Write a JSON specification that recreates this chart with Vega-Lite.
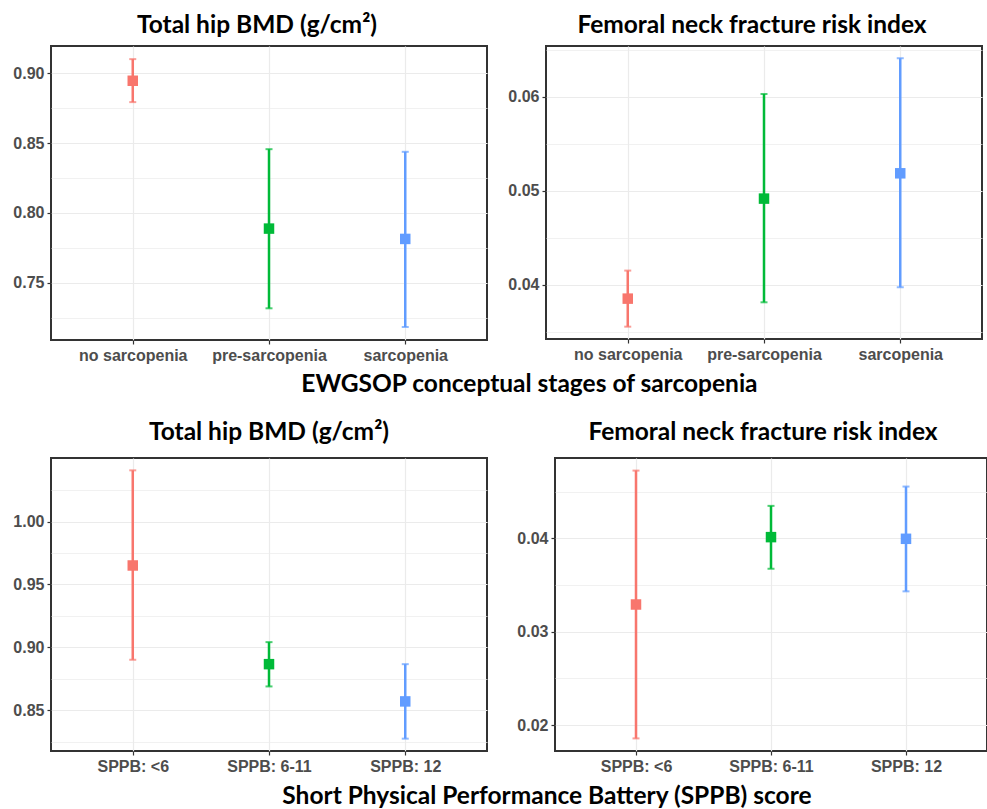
{
  "$schema": "https://vega.github.io/schema/vega-lite/v6.json",
  "background": "white",
  "padding": {"left": 11, "top": 11, "right": 0, "bottom": 0},
  "datasets": {
    "ewgsop_bmd": [
      {"group": "no sarcopenia", "mean": 0.8947, "lo": 0.8794, "hi": 0.9102},
      {"group": "pre-sarcopenia", "mean": 0.7888, "lo": 0.7317, "hi": 0.8457},
      {"group": "sarcopenia", "mean": 0.7814, "lo": 0.7183, "hi": 0.8438}
    ],
    "ewgsop_risk": [
      {"group": "no sarcopenia", "mean": 0.03855, "lo": 0.03557, "hi": 0.04153},
      {"group": "pre-sarcopenia", "mean": 0.04918, "lo": 0.03816, "hi": 0.0603},
      {"group": "sarcopenia", "mean": 0.05187, "lo": 0.03976, "hi": 0.0641}
    ],
    "sppb_bmd": [
      {"group": "SPPB: <6", "mean": 0.9651, "lo": 0.8902, "hi": 1.0407},
      {"group": "SPPB: 6-11", "mean": 0.8867, "lo": 0.869, "hi": 0.9042},
      {"group": "SPPB: 12", "mean": 0.8571, "lo": 0.8275, "hi": 0.8867}
    ],
    "sppb_risk": [
      {"group": "SPPB: <6", "mean": 0.03292, "lo": 0.01857, "hi": 0.04727},
      {"group": "SPPB: 6-11", "mean": 0.04014, "lo": 0.03675, "hi": 0.04349},
      {"group": "SPPB: 12", "mean": 0.03996, "lo": 0.03433, "hi": 0.04556}
    ]
  },
  "config": {
    "view": {"stroke": "#333333", "strokeWidth": 2},
    "axis": {
      "labelFont": "Liberation Sans",
      "labelFontWeight": "bold",
      "labelFontSize": 16,
      "labelColor": "#4D4D4D",
      "tickColor": "#333333",
      "tickSize": 4,
      "tickWidth": 1.2,
      "domain": false,
      "gridColor": "#EBEBEB",
      "gridWidth": 1.2,
      "labelPadding": 3,
      "labelOverlap": false
    },
    "axisX": {"grid": true},
    "axisY": {"minExtent": 37, "maxExtent": 37},
    "title": {"font": "Lato", "fontWeight": "bold", "fontSize": 24.5, "color": "#000000"}
  },
  "spacing": 21,
  "vconcat": [
    {
      "title": {"text": "EWGSOP conceptual stages of sarcopenia", "orient": "bottom", "anchor": "middle", "dx": 32, "offset": 9},
      "spacing": 18,
      "hconcat": [
        {
          "width": 436, "height": 294,
          "title": {"text": "Total hip BMD (g/cm²)", "dx": -12, "offset": 8},
          "data": {"name": "ewgsop_bmd"},
          "encoding": {
            "x": {"field": "group", "type": "nominal", "sort": null, "scale": {"type": "point", "padding": 0.6}, "axis": {"title": null, "labelAngle": 0}},
            "color": {"field": "group", "type": "nominal", "legend": null, "scale": {"domain": ["no sarcopenia", "pre-sarcopenia", "sarcopenia", "SPPB: <6", "SPPB: 6-11", "SPPB: 12"], "range": ["#F8766D", "#00BA38", "#619CFF", "#F8766D", "#00BA38", "#619CFF"]}}
          },
          "resolve": {"axis": {"y": "independent"}},
          "layer": [
            {"mark": {"type": "rule", "strokeWidth": 2.5}, "encoding": {
              "y": {"field": "lo", "type": "quantitative", "scale": {"domain": [0.709, 0.9196], "nice": false, "zero": false},
                "axis": {"title": null, "values": [0.75, 0.8, 0.85, 0.9], "format": ".2f"}},
              "y2": {"field": "hi"}}},
            {"mark": {"type": "tick", "size": 7, "thickness": 2}, "encoding": {"y": {"field": "hi", "type": "quantitative", "axis": null}}},
            {"mark": {"type": "tick", "size": 7, "thickness": 2}, "encoding": {"y": {"field": "lo", "type": "quantitative", "axis": null}}},
            {"mark": {"type": "square", "size": 110, "opacity": 1}, "encoding": {"y": {"field": "mean", "type": "quantitative",
              "axis": {"orient": "right", "title": null, "values": [0.725, 0.775, 0.825, 0.875], "labels": false, "ticks": false, "domain": false, "grid": true, "gridWidth": 0.7, "minExtent": 0, "maxExtent": 0}}}}
          ]
        },
        {
          "width": 436, "height": 293,
          "title": {"text": "Femoral neck fracture risk index", "dx": -12, "offset": 8},
          "data": {"name": "ewgsop_risk"},
          "encoding": {
            "x": {"field": "group", "type": "nominal", "sort": null, "scale": {"type": "point", "padding": 0.6}, "axis": {"title": null, "labelAngle": 0}},
            "color": {"field": "group", "type": "nominal", "legend": null}
          },
          "resolve": {"axis": {"y": "independent"}},
          "layer": [
            {"mark": {"type": "rule", "strokeWidth": 2.5}, "encoding": {
              "y": {"field": "lo", "type": "quantitative", "scale": {"domain": [0.03426, 0.0654], "nice": false, "zero": false},
                "axis": {"title": null, "values": [0.04, 0.05, 0.06], "format": ".2f"}},
              "y2": {"field": "hi"}}},
            {"mark": {"type": "tick", "size": 7, "thickness": 2}, "encoding": {"y": {"field": "hi", "type": "quantitative", "axis": null}}},
            {"mark": {"type": "tick", "size": 7, "thickness": 2}, "encoding": {"y": {"field": "lo", "type": "quantitative", "axis": null}}},
            {"mark": {"type": "square", "size": 110, "opacity": 1}, "encoding": {"y": {"field": "mean", "type": "quantitative",
              "axis": {"orient": "right", "title": null, "values": [0.035, 0.045, 0.055, 0.065], "labels": false, "ticks": false, "domain": false, "grid": true, "gridWidth": 0.7, "minExtent": 0, "maxExtent": 0}}}}
          ]
        }
      ]
    },
    {
      "title": {"text": "Short Physical Performance Battery (SPPB) score", "orient": "bottom", "anchor": "middle", "dx": 47, "offset": 10},
      "spacing": 27,
      "hconcat": [
        {
          "width": 436, "height": 293,
          "title": {"text": "Total hip BMD (g/cm²)", "dx": 0, "offset": 13},
          "data": {"name": "sppb_bmd"},
          "encoding": {
            "x": {"field": "group", "type": "nominal", "sort": null, "scale": {"type": "point", "padding": 0.6}, "axis": {"title": null, "labelAngle": 0}},
            "color": {"field": "group", "type": "nominal", "legend": null}
          },
          "resolve": {"axis": {"y": "independent"}},
          "layer": [
            {"mark": {"type": "rule", "strokeWidth": 2.5}, "encoding": {
              "y": {"field": "lo", "type": "quantitative", "scale": {"domain": [0.8177, 1.0505], "nice": false, "zero": false},
                "axis": {"title": null, "values": [0.85, 0.9, 0.95, 1.0], "format": ".2f"}},
              "y2": {"field": "hi"}}},
            {"mark": {"type": "tick", "size": 7, "thickness": 2}, "encoding": {"y": {"field": "hi", "type": "quantitative", "axis": null}}},
            {"mark": {"type": "tick", "size": 7, "thickness": 2}, "encoding": {"y": {"field": "lo", "type": "quantitative", "axis": null}}},
            {"mark": {"type": "square", "size": 110, "opacity": 1}, "encoding": {"y": {"field": "mean", "type": "quantitative",
              "axis": {"orient": "right", "title": null, "values": [0.825, 0.875, 0.925, 0.975, 1.025], "labels": false, "ticks": false, "domain": false, "grid": true, "gridWidth": 0.7, "minExtent": 0, "maxExtent": 0}}}}
          ]
        },
        {
          "width": 432, "height": 293,
          "title": {"text": "Femoral neck fracture risk index", "dx": -8, "offset": 13},
          "data": {"name": "sppb_risk"},
          "encoding": {
            "x": {"field": "group", "type": "nominal", "sort": null, "scale": {"type": "point", "padding": 0.6}, "axis": {"title": null, "labelAngle": 0}},
            "color": {"field": "group", "type": "nominal", "legend": null}
          },
          "resolve": {"axis": {"y": "independent"}},
          "layer": [
            {"mark": {"type": "rule", "strokeWidth": 2.5}, "encoding": {
              "y": {"field": "lo", "type": "quantitative", "scale": {"domain": [0.01722, 0.04862], "nice": false, "zero": false},
                "axis": {"title": null, "values": [0.02, 0.03, 0.04], "format": ".2f"}},
              "y2": {"field": "hi"}}},
            {"mark": {"type": "tick", "size": 7, "thickness": 2}, "encoding": {"y": {"field": "hi", "type": "quantitative", "axis": null}}},
            {"mark": {"type": "tick", "size": 7, "thickness": 2}, "encoding": {"y": {"field": "lo", "type": "quantitative", "axis": null}}},
            {"mark": {"type": "square", "size": 110, "opacity": 1}, "encoding": {"y": {"field": "mean", "type": "quantitative",
              "axis": {"orient": "right", "title": null, "values": [0.025, 0.035, 0.045], "labels": false, "ticks": false, "domain": false, "grid": true, "gridWidth": 0.7, "minExtent": 0, "maxExtent": 0}}}}
          ]
        }
      ]
    }
  ]
}
